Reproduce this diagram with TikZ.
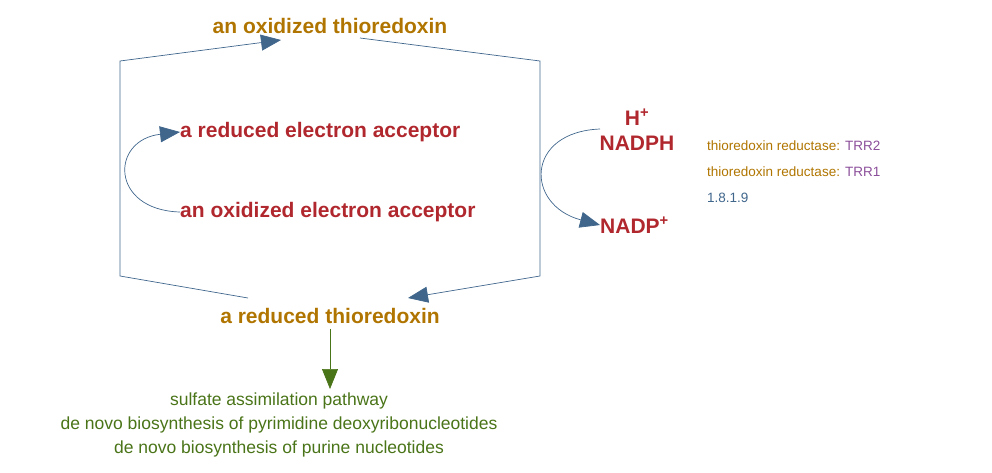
\documentclass[tikz,border=0pt]{standalone}
\usepackage{fontspec}
\setmainfont{Liberation Sans}
\usetikzlibrary{arrows.meta}
\definecolor{orn}{HTML}{B07500}
\definecolor{rd}{HTML}{B0282E}
\definecolor{bl}{HTML}{40668C}
\definecolor{gr}{HTML}{4A7418}
\definecolor{pu}{HTML}{8B4E9A}
\begin{document}
\begin{tikzpicture}[x=1pt,y=-1pt,
  lab/.style={font=\fontsize{21}{24}\selectfont\bfseries,inner sep=0pt},
  leg/.style={font=\fontsize{13.5}{16}\selectfont,inner sep=0pt,anchor=west},
  ln/.style={draw=bl,line width=0.7pt},
  arr/.style={ln,-{Triangle[length=20pt,width=16pt,fill=bl]}}]
\useasboundingbox (0,0) rectangle (992,472);
\node[lab,text=orn] (ox) at (330,26) {an oxidized thioredoxin};
\node[lab,text=orn] (red) at (330,316) {a reduced thioredoxin};
\node[lab,text=rd,anchor=west] (rea) at (180,132) {a reduced electron acceptor};
\node[lab,text=rd,anchor=west] (oxa) at (180,212) {an oxidized electron acceptor};
\node[lab,text=rd] (h) at (637,117) {H\textsuperscript{+}};
\node[lab,text=rd] (nadph) at (637,143) {NADPH};
\node[lab,text=rd,anchor=west] (nadp) at (600,225) {NADP\textsuperscript{+}};
\coordinate (a1) at (248,298);
\coordinate (a2) at (360,38);
\draw[arr] (a1) -- (120,276) -- (120,61) -- (281,40);
\draw[arr] (a2) -- (540,61) -- (540,276) -- (408,298);
\draw[arr] (oxa.west) .. controls (110,210) and (110,140) .. (rea.west);
\draw[arr] (600,129) .. controls (525,132) and (525,205) .. (nadp.west);
\node[font=\fontsize{17.5}{20}\selectfont,text=gr,align=center,inner sep=0pt] (pw) at (279,425)
 {sulfate assimilation pathway\\[4pt]de novo biosynthesis of pyrimidine deoxyribonucleotides\\[4pt]de novo biosynthesis of purine nucleotides};
\draw[draw=gr,line width=0.7pt,-{Triangle[length=20pt,width=16pt,fill=gr]}] (red.south) ++(0,5) -- (330,389);
\node[leg] (l1) at (707,146) {\textcolor{orn}{thioredoxin reductase:} \textcolor{pu}{TRR2}};
\node[leg] (l2) at (707,172) {\textcolor{orn}{thioredoxin reductase:} \textcolor{pu}{TRR1}};
\node[leg,text=bl] (l3) at (707,198) {1.8.1.9};
\end{tikzpicture}
\end{document}
